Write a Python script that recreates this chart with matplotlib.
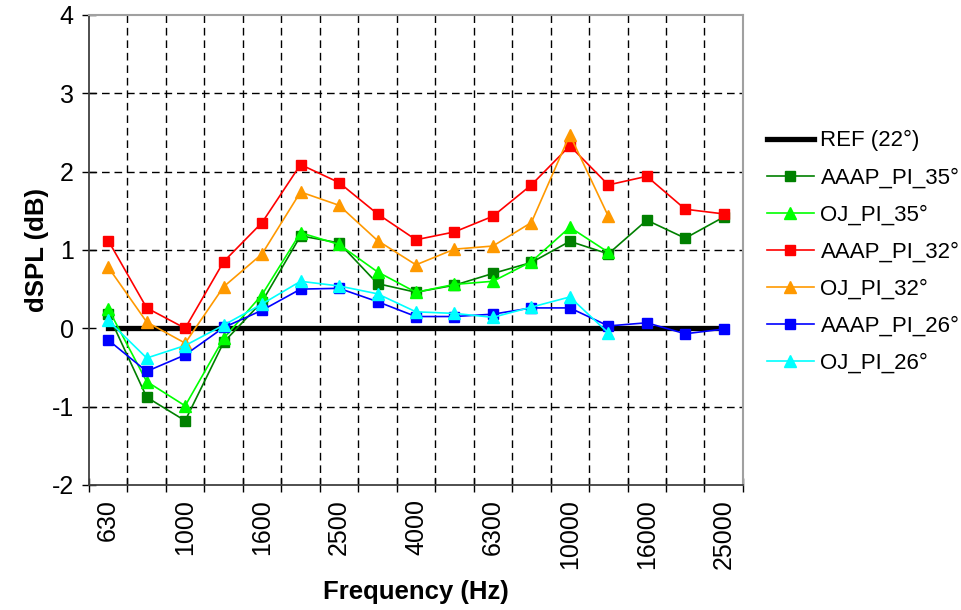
import numpy as np
import matplotlib
matplotlib.use('Agg')
import matplotlib.pyplot as plt

plt.rcParams['font.family'] = ['Liberation Sans', 'DejaVu Sans']
plt.rcParams['axes.unicode_minus'] = False

# third-octave bands
freqs = ['630', '800', '1000', '1250', '1600', '2000', '2500', '3150', '4000',
         '5000', '6300', '8000', '10000', '12500', '16000', '20000', '25000']
shown_labels = ['630', '1000', '1600', '2500', '4000', '6300', '10000', '16000', '25000']

ref_22 = [0.0] * 17
aaap_35 = [0.18, -0.88, -1.18, -0.18, 0.34, 1.18, 1.09, 0.57, 0.46,
           0.55, 0.70, 0.84, 1.11, 0.95, 1.38, 1.15, 1.42]
oj_35 = [0.25, -0.68, -0.99, -0.13, 0.43, 1.22, 1.07, 0.72, 0.46,
         0.56, 0.60, 0.85, 1.29, 0.97]
aaap_32 = [1.12, 0.26, 0.00, 0.85, 1.35, 2.09, 1.86, 1.46, 1.13,
           1.23, 1.43, 1.83, 2.33, 1.83, 1.94, 1.52, 1.46]
oj_32 = [0.78, 0.08, -0.19, 0.53, 0.95, 1.74, 1.57, 1.12, 0.81,
         1.01, 1.05, 1.35, 2.47, 1.43]
aaap_26 = [-0.15, -0.55, -0.34, 0.01, 0.23, 0.50, 0.51, 0.34, 0.15,
           0.15, 0.18, 0.26, 0.26, 0.03, 0.07, -0.07, -0.01]
oj_26 = [0.10, -0.38, -0.22, 0.04, 0.31, 0.60, 0.54, 0.44, 0.21,
         0.19, 0.14, 0.27, 0.40, -0.06]

series = [
    ('AAAP_PI_35°', aaap_35, '#008000', 's'),
    ('OJ_PI_35°', oj_35, '#00FF00', '^'),
    ('AAAP_PI_32°', aaap_32, '#FF0000', 's'),
    ('OJ_PI_32°', oj_32, '#FF9900', '^'),
    ('AAAP_PI_26°', aaap_26, '#0000FF', 's'),
    ('OJ_PI_26°', oj_26, '#00FFFF', '^'),
]

x = np.arange(len(freqs))

fig = plt.figure(figsize=(9.61, 6.10), dpi=100)
ax = fig.add_axes([0.0926, 0.205, 0.6805, 0.7705])

ax.plot(x, ref_22, color='black', lw=3.8, label='REF (22°)', zorder=3)
for name, vals, col, mk in series:
    ax.plot(x[:len(vals)], vals, color=col, marker=mk, lw=1.2,
            markersize=7.8 if mk == 's' else 8.5, markeredgecolor=col,
            label=name, zorder=4)

ax.set_xlim(-0.5, 16.5)
ax.set_ylim(-2, 4)
ax.set_yticks(range(-2, 5))

ax.set_xticks(x[::2])
ax.set_xticklabels(shown_labels, rotation=90, va='top')
ax.set_xticks(np.arange(-0.5, 17, 1), minor=True)
ax.tick_params(axis='x', which='major', length=0, pad=10, labelsize=18)
ax.tick_params(axis='x', which='minor', direction='inout', length=10, width=1)
ax.tick_params(axis='y', direction='inout', length=10, width=1, labelsize=18, pad=6)

# dashed grid, vertical lines on the band boundaries
for v in np.arange(0.5, 16, 1):
    ax.axvline(v, color='black', lw=1, dashes=(5.5, 3.5), zorder=1)
for h in [-1, 1, 2, 3]:
    ax.axhline(h, color='black', lw=1, dashes=(5.5, 3.5), zorder=1)

for s in ['left', 'bottom']:
    ax.spines[s].set_color('#404040')
    ax.spines[s].set_linewidth(1.3)
for s in ['top', 'right']:
    ax.spines[s].set_color('#A0A0A0')
    ax.spines[s].set_linewidth(1.5)

ax.set_xlabel('Frequency (Hz)', fontsize=18.5, fontweight='bold', labelpad=8)
ax.set_ylabel('dSPL (dB)', fontsize=18.5, fontweight='bold', labelpad=2)

ax.legend(loc='center left', bbox_to_anchor=(1.037, 0.496), frameon=False,
          fontsize=16, handlelength=2.1, handletextpad=0.3, numpoints=1,
          labelspacing=0.72, borderpad=0, borderaxespad=0)

fig.savefig('out.png', dpi=100)
